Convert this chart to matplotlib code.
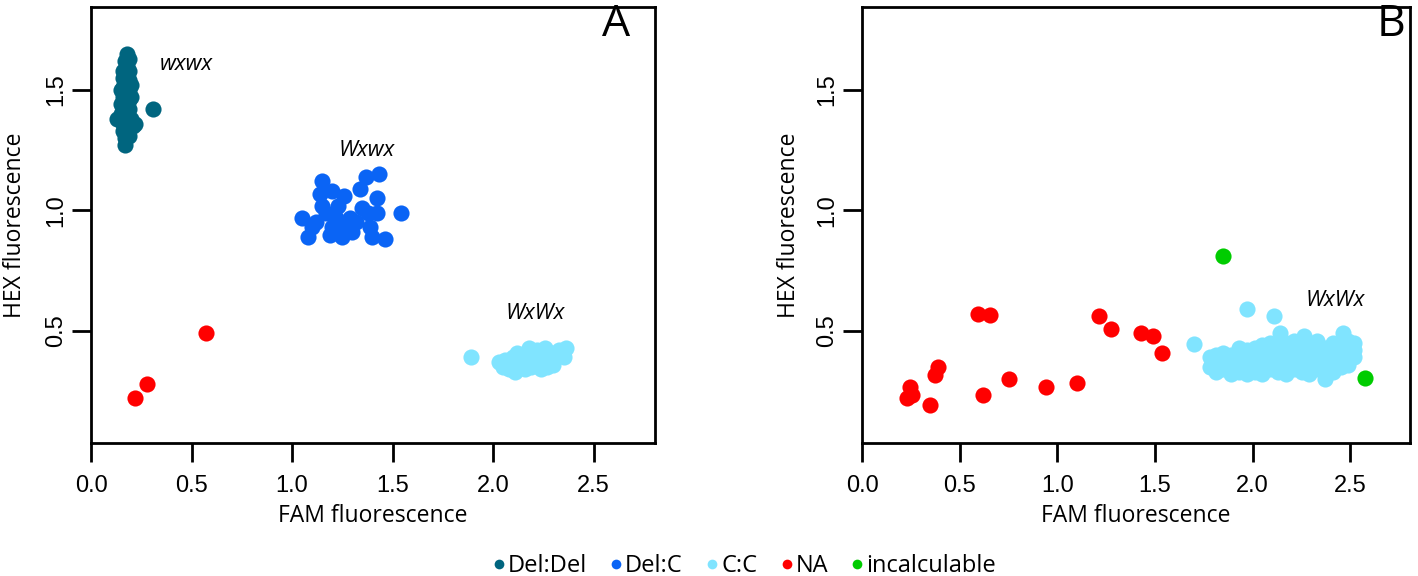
import matplotlib
matplotlib.use('Agg')
import matplotlib.pyplot as plt
from matplotlib.lines import Line2D

plt.rcParams['font.family'] = ['Open Sans', 'DejaVu Sans']

# 颜色
col_deldel = '#00657F'
col_delc = '#0A64F5'
col_cc = '#80E4FF'
col_na = '#FF0000'
col_inc = '#00CC00'

# ---------------- panel A ----------------
a_deldel_x = [0.18, 0.19, 0.17, 0.18, 0.19, 0.17, 0.18, 0.16, 0.19, 0.17,
              0.18, 0.16, 0.19, 0.17, 0.18, 0.16, 0.19, 0.17, 0.18, 0.16,
              0.19, 0.17, 0.15, 0.18, 0.20, 0.17, 0.16, 0.19, 0.18, 0.13,
              0.16, 0.18, 0.21, 0.22, 0.17, 0.19, 0.17, 0.18, 0.17, 0.31,
              0.15, 0.20, 0.16, 0.20, 0.15]
a_deldel_y = [1.65, 1.63, 1.62, 1.60, 1.58, 1.57, 1.56, 1.55, 1.54, 1.53,
              1.52, 1.51, 1.50, 1.49, 1.48, 1.47, 1.46, 1.45, 1.44, 1.43,
              1.42, 1.41, 1.40, 1.39, 1.38, 1.37, 1.36, 1.35, 1.34, 1.38,
              1.33, 1.32, 1.35, 1.36, 1.30, 1.31, 1.27, 1.45, 1.50, 1.42,
              1.44, 1.52, 1.58, 1.47, 1.50]

a_delc_x = [1.05, 1.08, 1.15, 1.14, 1.20, 1.26, 1.34, 1.37, 1.43, 1.42,
            1.54, 1.42, 1.46, 1.40, 1.25, 1.19, 1.30, 1.12, 1.17, 1.22,
            1.29, 1.35, 1.39, 1.32, 1.20, 1.27, 1.15, 1.23, 1.38, 1.10]
a_delc_y = [0.97, 0.89, 1.12, 1.07, 1.08, 1.06, 1.09, 1.14, 1.15, 1.05,
            0.99, 0.99, 0.88, 0.89, 0.89, 0.90, 0.91, 0.95, 0.99, 0.97,
            0.97, 1.01, 0.93, 0.95, 0.93, 0.93, 1.02, 1.02, 0.99, 0.93]

a_cc_x = [1.89, 2.03, 2.05, 2.06, 2.08, 2.09, 2.10, 2.12, 2.13, 2.14,
          2.16, 2.17, 2.18, 2.20, 2.21, 2.22, 2.24, 2.25, 2.26, 2.28,
          2.29, 2.30, 2.32, 2.33, 2.35, 2.36, 2.07, 2.11, 2.15, 2.19,
          2.23, 2.27, 2.31, 2.34, 2.12, 2.18, 2.24]
a_cc_y = [0.39, 0.37, 0.35, 0.38, 0.34, 0.36, 0.39, 0.35, 0.37, 0.40,
          0.34, 0.38, 0.41, 0.36, 0.39, 0.42, 0.37, 0.40, 0.43, 0.38,
          0.41, 0.36, 0.40, 0.42, 0.39, 0.43, 0.36, 0.33, 0.37, 0.35,
          0.38, 0.35, 0.39, 0.41, 0.41, 0.43, 0.34]

a_na_x = [0.57, 0.28, 0.22]
a_na_y = [0.49, 0.28, 0.22]

# ---------------- panel B ----------------
b_na_x = [0.595, 0.655, 1.215, 1.274, 1.43, 1.49, 1.534, 0.39, 0.374, 0.246,
          0.254, 0.229, 0.348, 0.621, 0.754, 0.94, 1.10]
b_na_y = [0.570, 0.566, 0.563, 0.508, 0.49, 0.48, 0.407, 0.352, 0.317, 0.269,
          0.234, 0.220, 0.193, 0.234, 0.299, 0.266, 0.283]

b_inc_x = [1.85, 2.574]
b_inc_y = [0.81, 0.303]

b_cc_x = [1.70, 1.97, 2.11,
          1.78, 1.78,
          1.81, 1.81, 1.81,
          1.85, 1.85, 1.85,
          1.89, 1.89, 1.89,
          1.93, 1.93, 1.93, 1.93,
          1.97, 1.97, 1.97, 1.97,
          2.01, 2.01, 2.01, 2.01,
          2.05, 2.05, 2.05, 2.05,
          2.09, 2.09, 2.09, 2.09,
          2.13, 2.13, 2.13, 2.13, 2.14,
          2.17, 2.17, 2.17, 2.17,
          2.21, 2.21, 2.21, 2.21,
          2.25, 2.25, 2.25, 2.25, 2.26,
          2.29, 2.29, 2.29, 2.29,
          2.33, 2.33, 2.33, 2.33,
          2.37, 2.37, 2.37, 2.37,
          2.41, 2.41, 2.41, 2.41,
          2.45, 2.45, 2.45, 2.46,
          2.49, 2.49, 2.49, 2.49,
          2.52, 2.52, 2.52]
b_cc_y = [0.445, 0.59, 0.56,
          0.35, 0.39,
          0.33, 0.37, 0.40,
          0.34, 0.38, 0.41,
          0.32, 0.36, 0.40,
          0.33, 0.37, 0.41, 0.43,
          0.32, 0.35, 0.39, 0.42,
          0.33, 0.36, 0.40, 0.43,
          0.32, 0.37, 0.41, 0.44,
          0.34, 0.38, 0.42, 0.45,
          0.33, 0.36, 0.40, 0.44, 0.49,
          0.32, 0.37, 0.41, 0.45,
          0.34, 0.38, 0.42, 0.46,
          0.33, 0.36, 0.40, 0.44, 0.48,
          0.32, 0.37, 0.41, 0.45,
          0.34, 0.38, 0.42, 0.46,
          0.30, 0.35, 0.39, 0.43,
          0.33, 0.37, 0.41, 0.45,
          0.35, 0.39, 0.43, 0.49,
          0.36, 0.40, 0.44, 0.46,
          0.39, 0.42, 0.45]

x_ticks = [0.0, 0.5, 1.0, 1.5, 2.0, 2.5]
y_ticks = [0.5, 1.0, 1.5]
xlim = (0, 2.805)
ylim = (0.035, 1.844)

W, H = 1418, 576
fig = plt.figure(figsize=(W / 100, H / 100), dpi=100)
axA = fig.add_axes([91 / W, (H - 443) / H, 564 / W, 436 / H])
axB = fig.add_axes([862 / W, (H - 443) / H, 548 / W, 436 / H])

ms = 135
axA.scatter(a_deldel_x, a_deldel_y, s=ms, color=col_deldel, linewidths=0)
axA.scatter(a_delc_x, a_delc_y, s=ms, color=col_delc, linewidths=0)
axA.scatter(a_cc_x, a_cc_y, s=ms, color=col_cc, linewidths=0)
axA.scatter(a_na_x, a_na_y, s=ms, color=col_na, linewidths=0)

axB.scatter(b_na_x, b_na_y, s=ms, color=col_na, linewidths=0)
axB.scatter(b_cc_x, b_cc_y, s=ms, color=col_cc, linewidths=0)
axB.scatter(b_inc_x, b_inc_y, s=ms, color=col_inc, linewidths=0)

# 基因型标注
axA.text(0.343, 1.604, 'wxwx', style='italic', fontsize=16, va='center')
axA.text(1.23, 1.25, 'Wxwx', style='italic', fontsize=16, va='center')
axA.text(2.06, 0.574, 'WxWx', style='italic', fontsize=16, va='center')
axB.text(2.27, 0.625, 'WxWx', style='italic', fontsize=16, va='center')

for ax, letter, lx in [(axA, 'A', 0.931), (axB, 'B', 0.965)]:
    ax.set_xlim(*xlim)
    ax.set_ylim(*ylim)
    ax.set_xticks(x_ticks)
    ax.set_xticklabels(['%.1f' % v for v in x_ticks], family='Liberation Sans')
    ax.set_yticks(y_ticks)
    ax.set_yticklabels(['%.1f' % v for v in y_ticks], family='Liberation Sans',
                       rotation=90, va='center')
    ax.tick_params(direction='out', length=14, width=2, labelsize=17)
    ax.tick_params(axis='x', pad=9)
    ax.tick_params(axis='y', pad=3)
    for sp in ax.spines.values():
        sp.set_linewidth(2)
    ax.text(0.5, -0.167, 'FAM fluorescence', transform=ax.transAxes,
            ha='center', va='center', fontsize=16.5)
    ax.text(-0.134, 0.5, 'HEX fluorescence', transform=ax.transAxes,
            ha='center', va='center', rotation=90, fontsize=16.5)
    ax.text(lx, 0.96, letter, transform=ax.transAxes, ha='center',
            va='center', fontsize=32)

# 图例
labels = ['Del:Del', 'Del:C', 'C:C', 'NA', 'incalculable']
colors = [col_deldel, col_delc, col_cc, col_na, col_inc]
handles = [Line2D([], [], marker='o', linestyle='', markersize=7,
                  markerfacecolor=c, markeredgewidth=0) for c in colors]
fig.legend(handles, labels, loc='center', bbox_to_anchor=(0.525, 0.017),
           ncol=5, frameon=False, fontsize=17, handlelength=0.5,
           handletextpad=0.12, columnspacing=1.0, borderpad=0)

fig.savefig('out.png', dpi=100)
